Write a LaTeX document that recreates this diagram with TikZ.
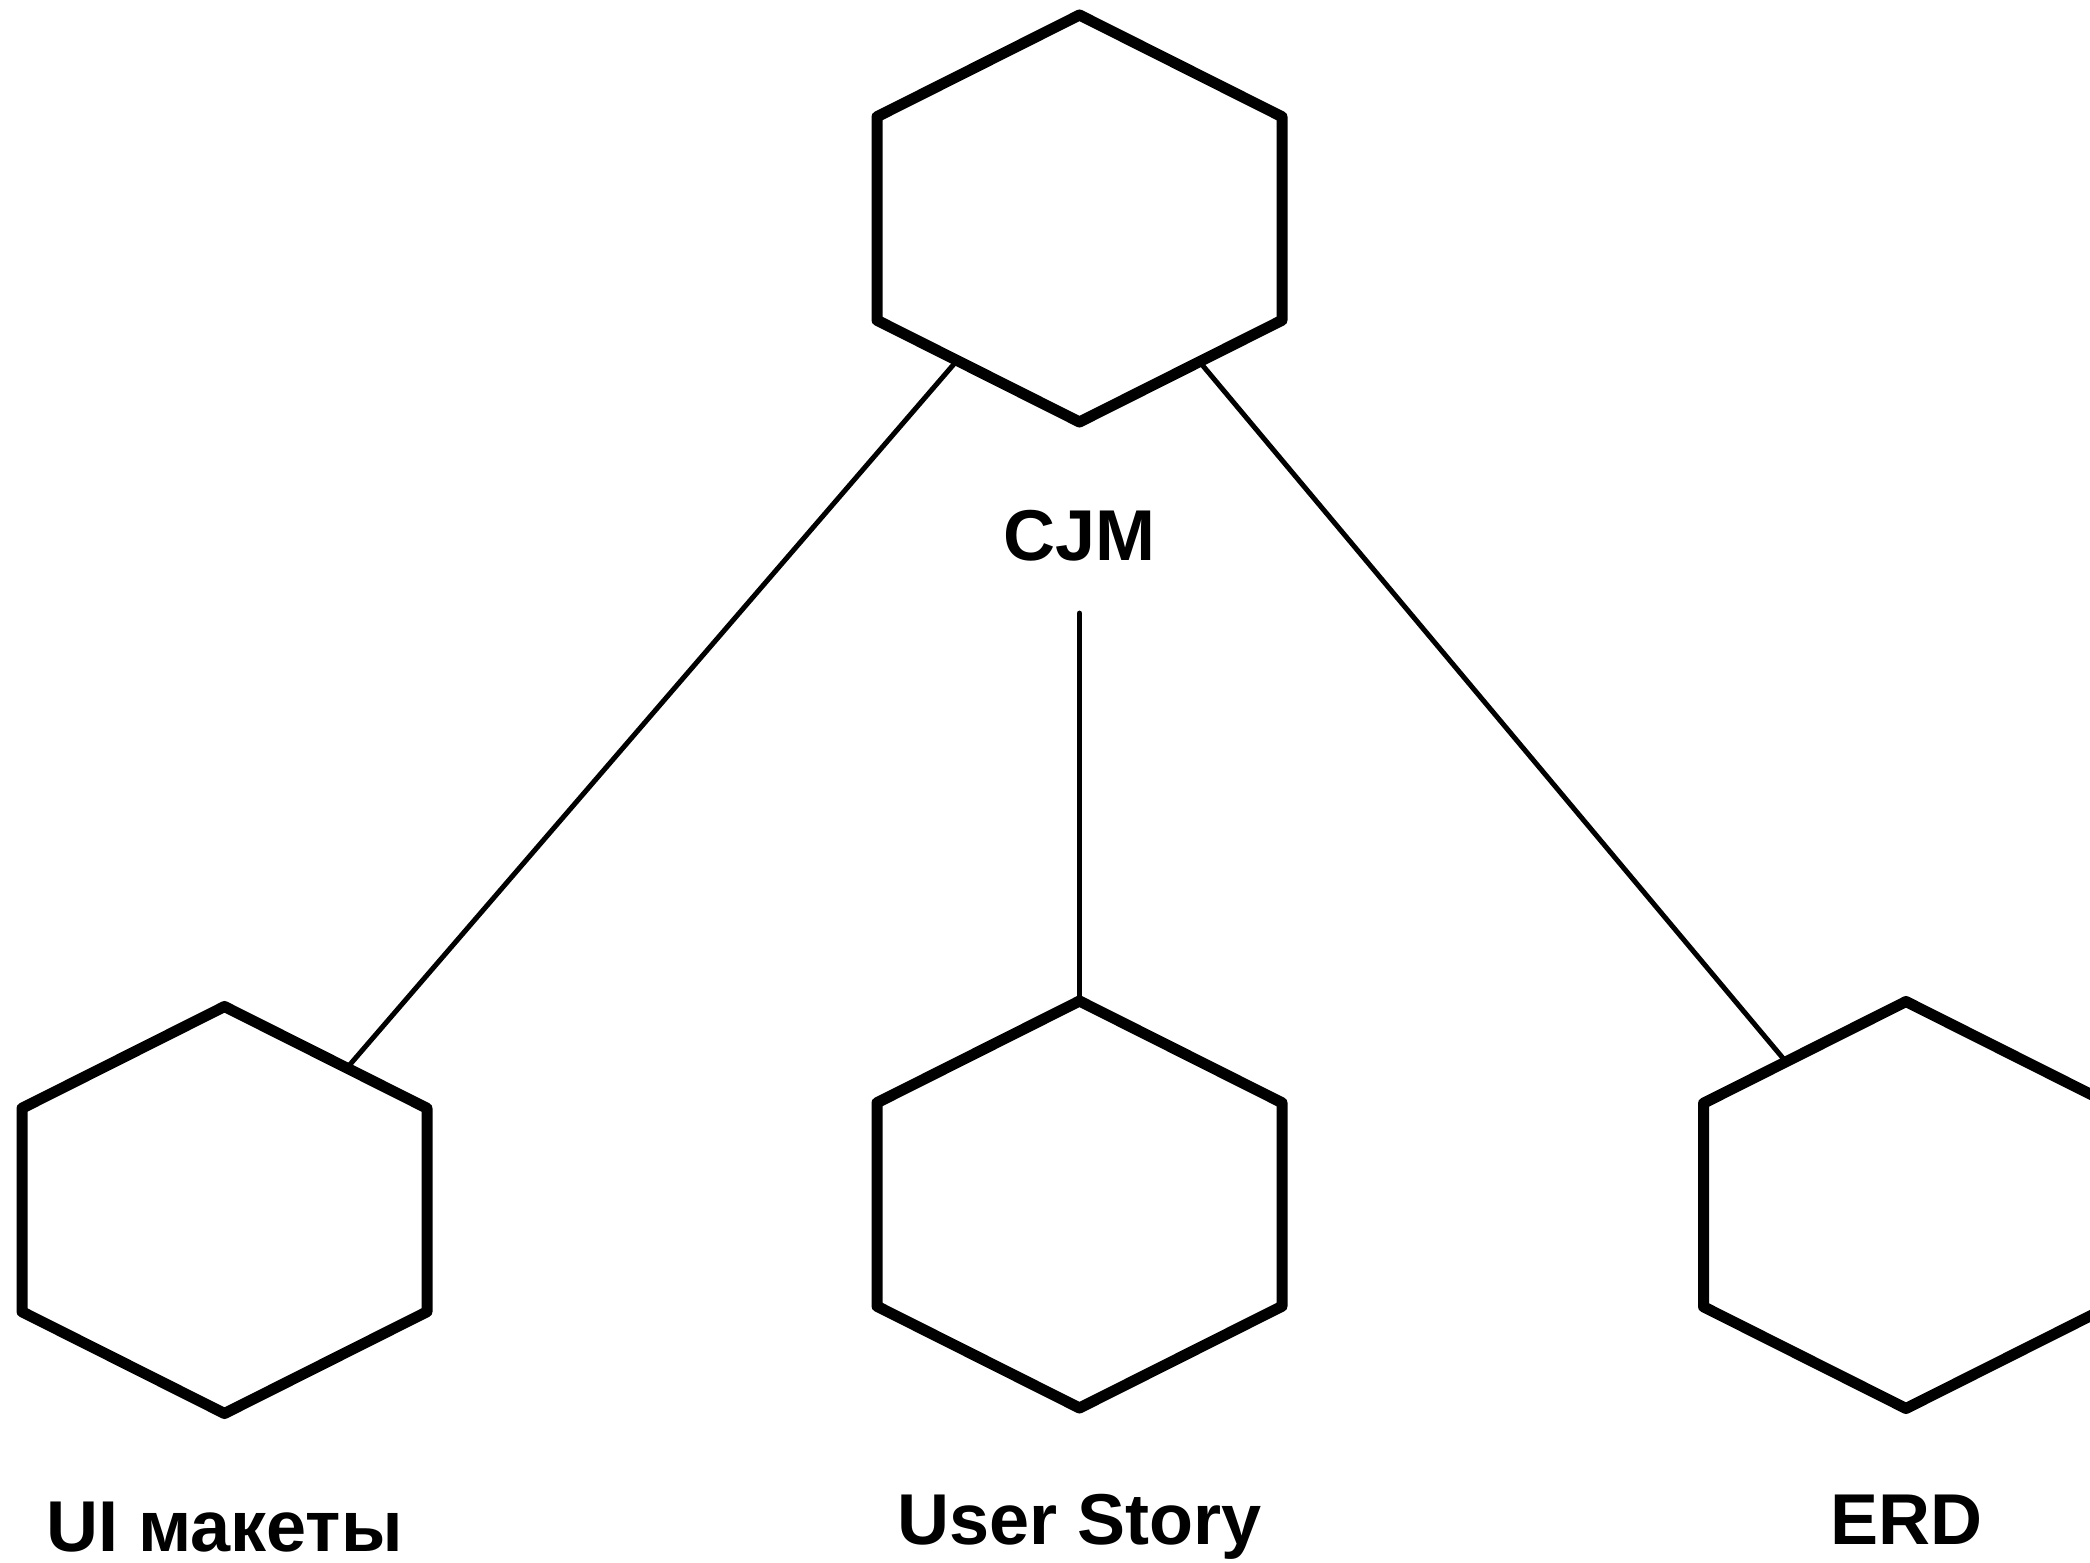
\documentclass[tikz,border=0pt]{standalone}
\usepackage{fontspec}
\setmainfont{Liberation Sans}
\usetikzlibrary{shapes.geometric}
\begin{document}
\begin{tikzpicture}[x=0.5pt,y=-0.5pt,
  hexbox/.style={draw, line width=5.5pt, line join=round, fill=white,
    regular polygon, regular polygon sides=6, shape border rotate=30,
    minimum size=203.5pt, inner sep=0pt, outer sep=0pt,
    xscale=1.149, transform shape},
  conn/.style={line width=2.5pt, line cap=round},
  lbl/.style={font=\fontsize{36}{40}\selectfont\bfseries, inner sep=0pt, anchor=base}]
  \useasboundingbox (0,0) rectangle (2090,1563);
  \clip (0,0) rectangle (2090,1563);

  % labels
  \node[lbl] (cjm)   at (1079.5,560) {CJM};
  \node[lbl] (ui)    at (224.5,1551) {UI макеты};
  \node[lbl] (story) at (1080,1544)  {User Story};
  \node[lbl] (erd)   at (1906,1544)  {ERD};

  % hexagons
  \node[hexbox] (cjmhex)   at (1079.5,218.5)  {};
  \node[hexbox] (uihex)    at (224.5,1210)    {};
  \node[hexbox] (storyhex) at (1079.5,1204.5) {};
  \node[hexbox] (erdhex)   at (1906,1205)     {};

  % connectors
  \draw[conn] (cjmhex) -- (uihex);
  \draw[conn] (cjmhex) -- (erdhex);
  \draw[conn, shorten <=26pt] (cjm) -- (storyhex);
\end{tikzpicture}
\end{document}
